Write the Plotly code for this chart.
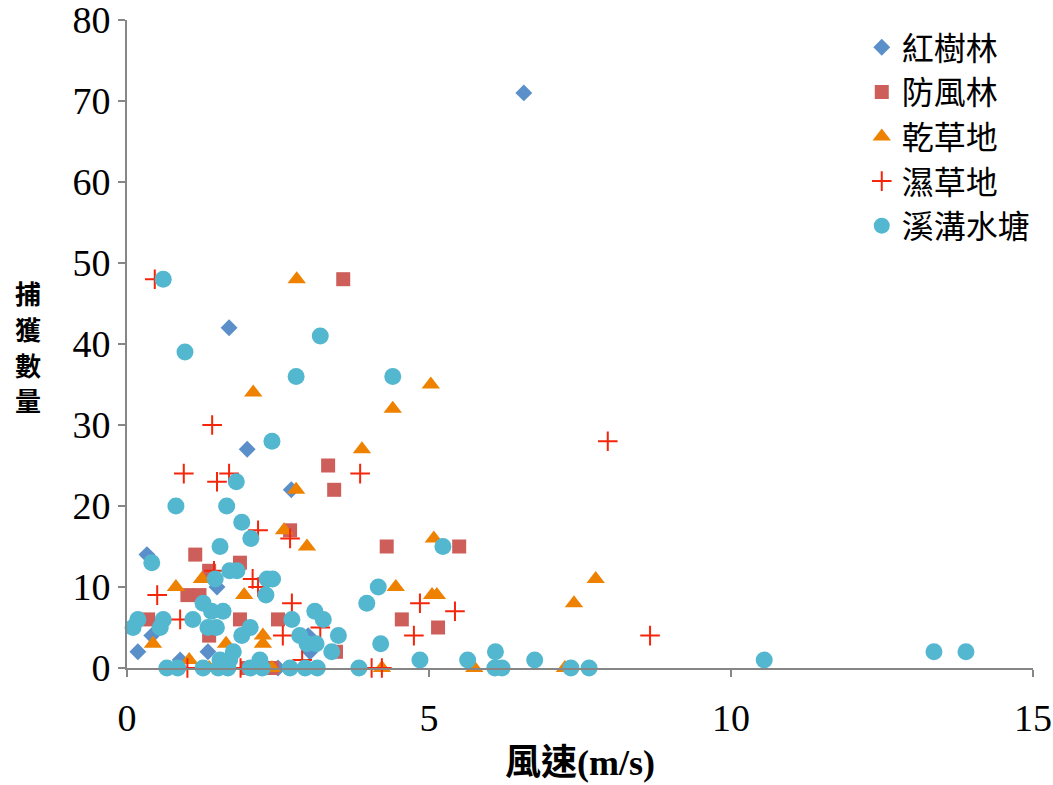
import plotly.graph_objects as go

# 紅樹林
mangrove_x = [0.18, 0.33, 0.41, 0.88, 1.34, 1.49, 1.69, 1.99, 2.72, 3.0, 3.03, 6.57, 2.5]
mangrove_y = [2, 14, 4, 1, 2, 10, 42, 27, 22, 4, 2, 71, 0]

# 防風林
windbreak_x = [0.35, 1.0, 1.2, 1.13, 1.36, 1.36, 1.87, 1.87, 2.0, 2.5, 2.7, 3.33, 3.43, 3.46, 3.58, 4.3, 4.55, 5.15, 5.5, 2.4]
windbreak_y = [6, 9, 9, 14, 12, 4, 13, 6, 0, 6, 17, 25, 22, 2, 48, 15, 6, 5, 15, 0]

# 乾草地
dry_x = [0.43, 0.81, 1.03, 1.24, 1.36, 1.64, 1.77, 1.94, 2.25, 2.25, 2.4, 2.6, 2.8, 2.81, 2.98, 2.09,
         3.89, 4.22, 4.4, 4.45, 5.03, 5.08, 5.05, 5.13, 5.75, 7.25, 7.4, 7.76]
dry_y = [3, 10, 1, 11, 0, 3, 12, 9, 4, 3, 0, 17, 22, 48, 15, 34,
         27, 0, 32, 10, 35, 16, 9, 9, 0, 0, 8, 11]

# 濕草地
wet_x = [0.46, 0.5, 0.88, 0.94, 1.0, 1.41, 1.44, 1.49, 1.69, 1.88, 2.08, 2.17, 2.17, 2.58, 2.7, 2.73,
         2.9, 3.2, 3.86, 4.05, 4.22, 4.75, 4.85, 5.43, 7.96, 8.66]
wet_y = [48, 9, 6, 24, 0, 30, 12, 23, 24, 0, 11, 10, 17, 4, 16, 8,
         1, 5, 24, 0, 0, 4, 8, 7, 28, 4]

# 溪溝水塘
pond_x = [0.6, 0.96, 3.2, 2.8, 4.4, 2.4, 1.81, 0.81, 1.65, 1.9, 2.05, 1.54, 5.23, 0.41, 1.7, 1.82,
          1.46, 2.32, 2.41, 4.16, 2.3, 3.97, 1.26, 1.4, 1.59, 3.11, 0.18, 0.6, 1.09, 2.73, 3.25,
          0.1, 0.55, 1.34, 1.48, 2.04, 1.9, 2.86, 3.5, 2.98, 3.13, 4.2, 1.76, 3.39, 6.1, 13.36, 13.89,
          1.54, 1.7, 2.2, 4.85, 5.64, 6.75, 10.55,
          0.66, 0.84, 1.26, 1.51, 1.67, 2.04, 2.24, 2.7, 2.95, 3.15, 3.84, 6.09, 6.21, 7.35, 7.65]
pond_y = [48, 39, 41, 36, 36, 28, 23, 20, 20, 18, 16, 15, 15, 13, 12, 12,
          11, 11, 11, 10, 9, 8, 8, 7, 7, 7, 6, 6, 6, 6, 6,
          5, 5, 5, 5, 5, 4, 4, 4, 3, 3, 3, 2, 2, 2, 2, 2,
          1, 1, 1, 1, 1, 1, 1,
          0, 0, 0, 0, 0, 0, 0, 0, 0, 0, 0, 0, 0, 0, 0]

x_ticks = [0, 5, 10, 15]
y_ticks = [0, 10, 20, 30, 40, 50, 60, 70, 80]

x_title = "風速(m/s)"
y_title = "捕獲數量"

series = [
    ("紅樹林", mangrove_x, mangrove_y, dict(symbol="diamond", size=13, color="#5B8FC9")),
    ("防風林", windbreak_x, windbreak_y, dict(symbol="square", size=14, color="#CD5E5A")),
    ("乾草地", dry_x, dry_y, dict(symbol="triangle-up", size=16, color="#EE8200")),
    ("濕草地", wet_x, wet_y, dict(symbol="cross-thin", size=14, color="#F5250A",
                                line=dict(color="#F5250A", width=2))),
    ("溪溝水塘", pond_x, pond_y, dict(symbol="circle", size=17, color="#53B7CF")),
]

fig = go.Figure()
for i, (name, xs, ys, mk) in enumerate(series):
    fig.add_trace(go.Scatter(x=xs, y=ys, mode="markers", name=name, marker=mk,
                             cliponaxis=False, legendgroup=f"g{i}"))

serif = "Liberation Serif, Times New Roman, serif"
cjk = "Noto Sans CJK TC, Noto Sans CJK SC, sans-serif"

fig.update_layout(
    width=1053, height=785,
    margin=dict(l=127, r=20, t=20, b=117),
    plot_bgcolor="white", paper_bgcolor="white",
    showlegend=True,
    legend=dict(x=0.811, y=1.0, xanchor="left", yanchor="top",
                font=dict(family=cjk, size=32, color="#000000"),
                tracegroupgap=0, bgcolor="rgba(0,0,0,0)"),
    xaxis=dict(range=[0, 15], tickvals=x_ticks, showgrid=False, zeroline=False,
               automargin=False, ticklabeloverflow="allow",
               showline=True, linecolor="#868686", linewidth=2,
               ticks="outside", ticklen=7, tickcolor="#868686", tickwidth=2,
               tickfont=dict(family=serif, size=38, color="#000000"),
               ticklabelstandoff=8),
    yaxis=dict(range=[0, 80], tickvals=y_ticks, showgrid=False, zeroline=False,
               automargin=False, ticklabeloverflow="allow",
               showline=True, linecolor="#868686", linewidth=2,
               ticks="outside", ticklen=7, tickcolor="#868686", tickwidth=2,
               tickfont=dict(family=serif, size=38, color="#000000"),
               ticklabelstandoff=0),
)

fig.add_annotation(text=f"<b>{x_title}</b>", xref="paper", yref="paper",
                   x=0.5, y=-0.147, xanchor="center", yanchor="middle", showarrow=False,
                   font=dict(family=serif + ", " + cjk, size=36, color="#000000"))

# vertical, upright title: one character per line
y_top, y_step = 0.579, 0.055
for k, ch in enumerate(y_title):
    fig.add_annotation(text=f"<b>{ch}</b>", xref="paper", yref="paper",
                       x=-0.109, y=y_top - k * y_step, xanchor="center", yanchor="middle",
                       showarrow=False, borderpad=0,
                       font=dict(family=cjk, size=26, color="#000000"))

fig.write_html("out.html", config={"displayModeBar": False},
               post_script="document.body.style.margin='0';document.body.style.overflow='hidden';")
